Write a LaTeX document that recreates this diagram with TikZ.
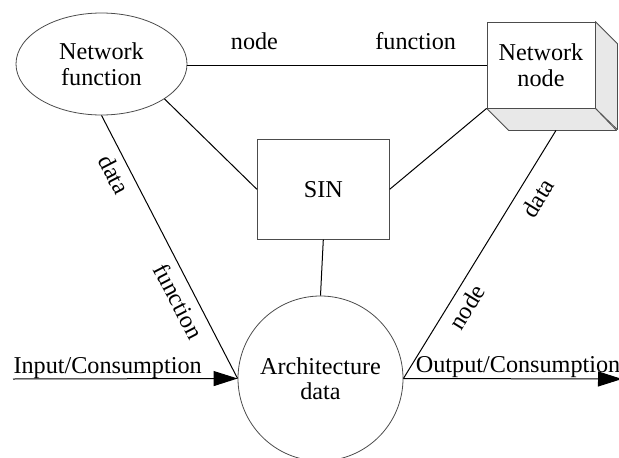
\documentclass[tikz,border=0pt]{standalone}
\usepackage{fontspec}
\setmainfont{Liberation Serif}
\usetikzlibrary{shapes.geometric,arrows.meta,calc}

\tikzset{
  shapeline/.style={draw=black!70, line width=0.8pt, fill=white, align=center, inner sep=0pt},
  depthface/.style={draw=black!70, line width=0.8pt, fill=black!9, line join=round},
  link/.style={draw=black, line width=1pt},
  flow/.style={link, -{Triangle[length=24pt,width=15pt]}},
  linklabel/.style={inner sep=3pt},
}

\begin{document}
\begin{tikzpicture}[x=1pt, y=-1pt, font=\fontsize{24.2}{25.5}\selectfont]
  \path[use as bounding box] (0,0) rectangle (619,458);
  \clip (0,0) rectangle (619,458);

  % main shapes
  \node[shapeline, ellipse, minimum width=171pt, minimum height=102pt] (nf) at (101.5,64) {Network\\function};
  \node[shapeline, rectangle, minimum width=108pt, minimum height=86pt] (nn) at (541,65) {Network\\node};
  \node[shapeline, rectangle, minimum width=132pt, minimum height=100pt] (sin) at (323.3,189.3) {SIN};
  \node[shapeline, circle, minimum size=165pt] (arch) at (320.5,378.5) {Architecture\\data};

  % extruded sides of the network node box
  \path[depthface] (nn.north east) -- ++(22,22) -- ++(0,86) -- (nn.south east) -- cycle;
  \path[depthface] (nn.south west) -- ++(22,22) -- ++(108,0) -- (nn.south east) -- cycle;
  \coordinate (nnb) at ($(nn.south)+(15,22)$);

  % free ends of the flow arrows
  \coordinate (in) at (13,379);
  \coordinate (out) at (622,379);

  % connectors
  \draw[link] (nf.east |- nn.west) -- (nn.west)
    node[linklabel, pos=0.224, above=12pt] {node}
    node[linklabel, pos=0.763, above=12pt] {function};
  \draw[link] (nf.-29.3) -- (sin.west);
  \draw[link] (sin.east) -- (nn.south west);
  \draw[link] (sin.south) -- (arch.north);
  \draw[link] (nf.south) -- (arch.west)
    node[linklabel, pos=0.197, sloped, below=4pt] {data}
    node[linklabel, pos=0.677, sloped, below=4.5pt] {function};
  \draw[link] (arch.east) -- (nnb)
    node[linklabel, pos=0.323, sloped, below=4.5pt] {node}
    node[linklabel, pos=0.77, sloped, below=8pt] {data};

  % input and output flows
  \draw[flow] (in) -- (arch.west)
    node[pos=0, anchor=base west, inner sep=0pt, yshift=6pt] {Input/Consumption};
  \draw[flow] (arch.east) -- (out)
    node[pos=0, anchor=base west, inner sep=0pt, xshift=12pt, yshift=6pt] {Output/Consumption};
\end{tikzpicture}
\end{document}
